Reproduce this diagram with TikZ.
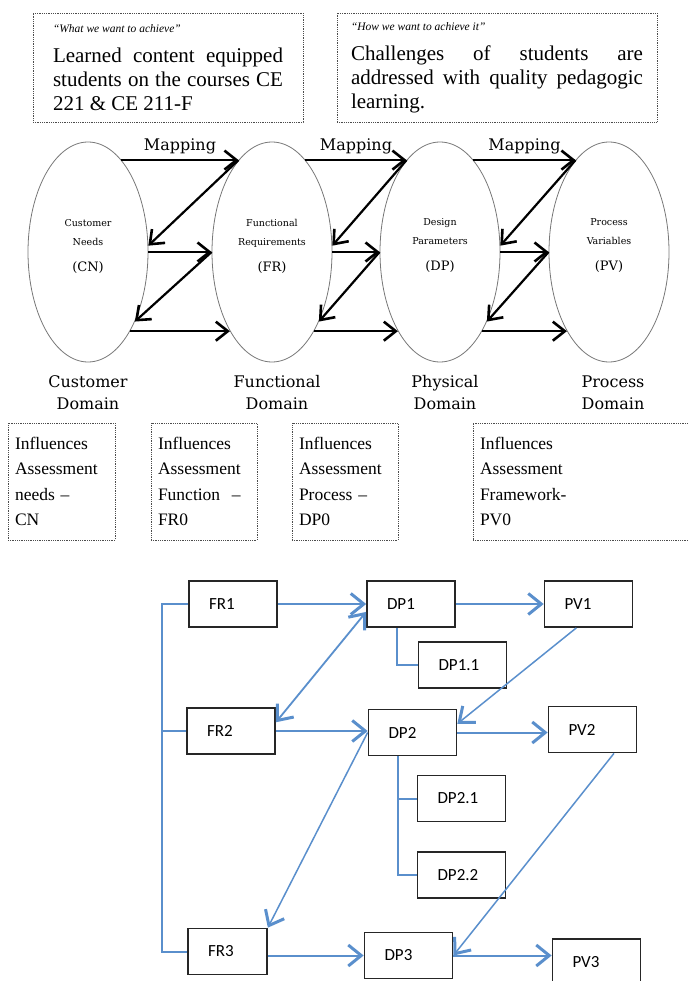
\documentclass[tikz,border=0pt]{standalone}
\usepackage{fontspec}
\setmainfont{Liberation Serif}
\newfontfamily\slabfont{DejaVu Serif}
\newfontfamily\calfont{Carlito}
\usetikzlibrary{shapes.geometric,arrows.meta}
\definecolor{flowc}{HTML}{5A8FCC}
\definecolor{rimc}{HTML}{777777}
\tikzset{
  notebox/.style={draw=black!70, densely dotted, line width=0.8pt, font=\fontsize{21}{24}\selectfont, text width=#1, align=justify, minimum height=109pt},
  infobox/.style={draw=black!70, densely dotted, line width=0.8pt, font=\fontsize{17.5}{25.5}\selectfont, text width=#1, align=left, inner xsep=7pt, minimum height=117pt},
  oval/.style={ellipse, draw=rimc, line width=0.8pt, minimum width=120pt, minimum height=220pt, inner sep=0pt},
  ovaltext/.style={font=\slabfont\fontsize{9.5}{19}\selectfont, align=center},
  realm/.style={font=\slabfont\fontsize{16}{22}\selectfont, align=center},
  map/.style={line width=2.2pt, -{Straight Barb[length=12pt,width=19pt,line width=2.6pt]}},
  blk/.style={draw=black!85, line width=1.7pt, font=\calfont\fontsize{17}{20}\selectfont, text width=#1, align=left, inner xsep=20pt, minimum height=46pt},
  blk/.default=48pt,
  tie/.style={draw=flowc, line width=2pt},
  flow/.style={draw=flowc, line width=2pt, -{Straight Barb[length=13pt,width=21pt,line width=3pt]}},
  twoway/.style={draw=flowc, line width=1.8pt, {Straight Barb[length=13pt,width=21pt,line width=3pt]}-{Straight Barb[length=13pt,width=21pt,line width=3pt]}},
}
\begin{document}
\begin{tikzpicture}[x=1pt, y=-1pt]
\useasboundingbox (0,0) rectangle (688,981);
\node[notebox=230pt, inner xsep=20pt] (want) at (168,67.5) {{\fontsize{11.5}{13}\selectfont\itshape “What we want to achieve”\par}\vspace{6pt}Learned content equipped\linebreak students on the courses CE\linebreak 221 \& CE 211-F};
\node[notebox=292pt, inner xsep=14pt] (how) at (497,67.5) {{\fontsize{11.5}{13}\selectfont\itshape “How we want to achieve it”\par}\vspace{6pt}Challenges of students are\linebreak addressed with quality pedagogic\linebreak learning.};

\node[oval] (cn) at (88,252) {};
\node[oval] (fr) at (272,252) {};
\node[oval] (dp) at (440,252) {};
\node[oval] (pv) at (609,252) {};
\node[ovaltext] (cntag) at (88,246) {Customer\\Needs\\[7pt]{\fontsize{13}{15}\selectfont(CN)}};
\node[ovaltext] (frtag) at (272,246) {Functional\\Requirements\\[7pt]{\fontsize{13}{15}\selectfont(FR)}};
\node[ovaltext] (dptag) at (440,246) {Design\\Parameters\\[7pt]{\fontsize{13}{15}\selectfont(DP)}};
\node[ovaltext] (pvtag) at (609,246) {Process\\Variables\\[7pt]{\fontsize{13}{15}\selectfont(PV)}};

\draw[map] (cn.70) -- node[above=2pt, realm] {Mapping} (fr.110);
\draw[map] (fr.110) -- (cn.6);
\draw[map] (cn.east) -- (fr.west);
\draw[map] (fr.west) -- (cn.-56);
\draw[map] (cn.-62) -- (fr.-118);
\draw[map] (fr.70) -- node[above=2pt, realm] {Mapping} (dp.110);
\draw[map] (dp.110) -- (fr.6);
\draw[map] (fr.east) -- (dp.west);
\draw[map] (dp.west) -- (fr.-56);
\draw[map] (fr.-62) -- (dp.-118);
\draw[map] (dp.70) -- node[above=2pt, realm] {Mapping} (pv.110);
\draw[map] (pv.110) -- (dp.6);
\draw[map] (dp.east) -- (pv.west);
\draw[map] (pv.west) -- (dp.-56);
\draw[map] (dp.-62) -- (pv.-118);

\node[realm] (cnname) at (88,393) {Customer\\Domain};
\node[realm] (frname) at (277,393) {Functional\\Domain};
\node[realm] (dpname) at (445,393) {Physical\\Domain};
\node[realm] (pvname) at (613,393) {Process\\Domain};

\node[infobox=93pt] (cninfo) at (61.5,481.5) {Influences\\Assessment\\needs –\\CN};
\node[infobox=92pt] (frinfo) at (204,481.5) {Influences\\Assessment\\Function~~–\\FR0};
\node[infobox=92pt] (dpinfo) at (345,481.5) {Influences\\Assessment\\Process –\\DP0};
\node[infobox=205pt] (pvinfo) at (582.5,481.5) {Influences\\Assessment\\Framework-\\PV0};

\node[blk] (fr1) at (233,604) {FR1};
\node[blk] (dp1) at (411,604) {DP1};
\node[blk] (pv1) at (588.5,604) {PV1};
\node[blk] (dp11) at (462.5,665) {DP1.1};
\node[blk] (fr2) at (231,731) {FR2};
\node[blk] (dp2) at (412.5,732.5) {DP2};
\node[blk] (pv2) at (592.5,729.5) {PV2};
\node[blk] (dp21) at (461.5,798.5) {DP2.1};
\node[blk] (dp22) at (461.5,875) {DP2.2};
\node[blk=39pt] (fr3) at (227.5,951.5) {FR3};
\node[blk] (dp3) at (408.5,955.5) {DP3};
\node[blk] (pv3) at (596.5,962) {PV3};

\coordinate (spine) at (162,604);
\coordinate (trunk) at ([xshift=-15pt]dp2.south);
\draw[tie] (fr1.west) -- (spine) |- (fr3.west);
\draw[tie] (fr2.west) -- (fr2.west -| spine);
\draw[tie] (dp11.west) -| ([xshift=-14pt]dp1.south);
\draw[tie] (dp22.west) -| (trunk);
\draw[tie] (dp21.west) -- (dp21.west -| trunk);
\draw[flow] (fr1.east) -- (dp1.west);
\draw[flow] (dp1.east) -- (pv1.west);
\draw[twoway] (dp1.190) -- (fr2.11);
\draw[flow, line width=1.5pt] (pv1.243) -- (dp2.11);
\draw[flow] (fr2.east) -- (fr2.east -| dp2.west);
\draw[flow] (dp2.east) -- (dp2.east -| pv2.west);
\draw[flow, line width=1.5pt] (dp2.west) -- (fr3.north east);
\draw[flow, line width=1.5pt] (pv2.-48) -- (dp3.east);
\draw[flow] (dp3.west -| fr3.east) -- (dp3.west);
\draw[flow] (dp3.east) -- (dp3.east -| pv3.west);
\end{tikzpicture}
\end{document}
